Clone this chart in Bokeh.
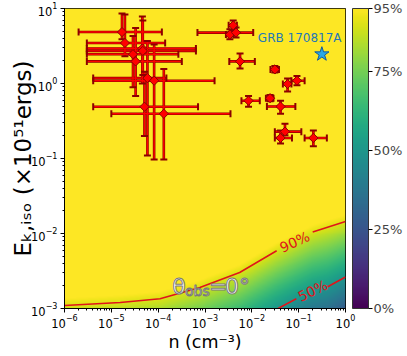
import numpy as np
from bokeh.plotting import figure
from bokeh.models import (LinearColorMapper, ColorBar, FixedTicker, PrintfTickFormatter,
                          Label, ColumnDataSource)
from bokeh.palettes import Viridis256
from bokeh.embed import file_html
from bokeh.resources import INLINE

# ---------------- data ----------------
n_cm3 = [1.69e-5, 1.95e-5, 4.6e-5, 4.7e-5, 2.9e-5, 3.3e-5, 5.9e-5, 8.2e-5, 5.1e-5, 1.32e-4,
         4.0e-3, 3.4e-3, 4.6e-3, 5.6e-3, 0.031, 0.058, 0.092, 8.5e-3, 0.0245, 0.041,
         0.051, 0.041, 0.206]
n_lo = [2.0e-6, 3.0e-6, 3.0e-6, 3.0e-6, 3.0e-6, 3.0e-6, 4.1e-6, 4.1e-6, 4.1e-6, 1.0e-5,
        3.2e-3, 2.8e-3, 6.9e-4, 3.3e-3, 0.025, 0.046, 0.070, 6.0e-3, 0.020, 0.021,
        0.031, 0.031, 0.134]
n_hi = [1.2e-4, 1.41e-4, 6.4e-4, 6.4e-4, 2.7e-4, 3.2e-4, 1.5e-4, 1.6e-3, 7.1e-4, 3.5e-3,
        4.8e-3, 4.1e-3, 1.07e-2, 1.16e-2, 0.038, 0.070, 0.134, 0.0148, 0.029, 0.085,
        0.114, 0.072, 0.40]
E_51 = [4.85, 3.47, 2.93, 2.72, 2.46, 1.97, 1.18, 1.09, 0.49, 0.395,
        5.96, 4.49, 4.77, 1.97, 1.54, 0.985, 1.09, 0.59, 0.637, 0.493,
        0.228, 0.188, 0.188]
E_lo = [3.9, 2.3, 1.0, 1.3, 0.89, 0.68, 0.11, 0.097, 0.20, 0.097,
        5.1, 3.9, 4.1, 1.59, 1.40, 0.78, 0.95, 0.49, 0.58, 0.395,
        0.204, 0.158, 0.146]
E_hi = [8.6, 8.3, 7.8, 6.9, 4.3, 5.5, 3.7, 3.3, 1.43, 1.56,
        6.9, 5.3, 5.6, 2.51, 1.71, 1.17, 1.26, 0.68, 0.70, 0.59,
        0.291, 0.237, 0.237]

grb_n = [0.313]
grb_E = [2.46]
grb_name = "GRB 170817A"

# contour lines of the detection-probability map (log10 n, log10 E)
c90_logn = [-6.0, -4.81, -3.96, -3.11, -2.26, -1.47, -0.70, 0.0]
c90_logE = [-2.96, -2.92, -2.87, -2.72, -2.52, -2.23, -1.98, -1.84]
c50_logn = [-1.44, -1.05, -0.38, 0.0]
c50_logE = [-3.0, -2.87, -2.71, -2.58]
level_hi, level_lo = 90.0, 50.0

cbar_ticks = [0, 25, 50, 75, 95]
cbar_max = 95
x_range = (1e-6, 1.0)
y_range = (1e-3, 10.0)

# ---------------- probability map built from the contours ----------------
nx, ny = 282, 302
lx = -6 + (np.arange(nx) + 0.5) * 6.0 / nx
ly = -3 + (np.arange(ny) + 0.5) * 4.0 / ny
c90 = np.interp(lx, c90_logn, c90_logE)
gap_pts = np.interp(c50_logn, c90_logn, c90_logE) - np.array(c50_logE)
gap = np.interp(lx, c50_logn, gap_pts)
field = level_hi + (level_hi - level_lo) * (ly[:, None] - c90[None, :]) / gap[None, :]

FONT = "DejaVu Sans"
RED = "#e0141a"
DARK = "#8b0000"
W, H = 405, 354

p = figure(width=W, height=H, x_axis_type="log", y_axis_type="log",
           x_range=x_range, y_range=y_range, output_backend="svg",
           toolbar_location=None, min_border_left=64, min_border_right=W - 346,
           min_border_top=8, min_border_bottom=H - 310)
p.grid.visible = False
p.outline_line_color = "black"
p.outline_line_width = 1

mapper = LinearColorMapper(palette=Viridis256, low=0, high=cbar_max)
p.image(image=[field], x=x_range[0], y=y_range[0], dw=x_range[1] - x_range[0],
        dh=y_range[1] - y_range[0], color_mapper=mapper)

c90_n = [10 ** v for v in c90_logn]
c90_E = [10 ** v for v in c90_logE]
c50_n = [10 ** v for v in c50_logn]
c50_E = [10 ** v for v in c50_logE]
p.line(c90_n[:6], c90_E[:6], line_color=RED, line_width=1.5)
p.line(c90_n[6:], c90_E[6:], line_color=RED, line_width=1.5)
p.line(c50_n[:2], c50_E[:2], line_color=RED, line_width=1.5)
p.line(c50_n[2:], c50_E[2:], line_color=RED, line_width=1.5)

p.add_layout(Label(x=10 ** -1.085, y=10 ** -2.113, text="90%", angle=0.42,
                   text_align="center", text_baseline="middle", text_color=RED,
                   text_font=FONT, text_font_size="14px"))
p.add_layout(Label(x=10 ** -0.70, y=10 ** -2.762, text="50%", angle=0.45,
                   text_align="center", text_baseline="middle", text_color=RED,
                   text_font=FONT, text_font_size="14px"))

for txt, lxp, lyp, fs in [("θ", -3.70, -2.709, "22px"), ("obs", -3.426, -2.765, "14px"),
                          ("=", -2.915, -2.709, "22px"), ("0°", -2.574, -2.709, "22px")]:
    p.add_layout(Label(x=10 ** lxp, y=10 ** lyp, text=txt, text_color="white",
                       text_outline_color="#7a7a7a", text_font=FONT,
                       text_font_size=fs, text_baseline="alphabetic"))

src = ColumnDataSource(dict(n=n_cm3, E=E_51, nlo=n_lo, nhi=n_hi, elo=E_lo, ehi=E_hi))
p.segment("nlo", "E", "nhi", "E", source=src, line_color=DARK, line_width=2.6)
p.segment("n", "elo", "n", "ehi", source=src, line_color=DARK, line_width=2.6)
p.segment("nlo", "E", "nhi", "E", source=src, line_color="red", line_width=1.4)
p.segment("n", "elo", "n", "ehi", source=src, line_color="red", line_width=1.4)
for xs, ys, ang in [("nlo", "E", np.pi / 2), ("nhi", "E", np.pi / 2),
                    ("n", "elo", 0.0), ("n", "ehi", 0.0)]:
    p.scatter(xs, ys, source=src, marker="dash", angle=ang, size=7,
              line_color=DARK, line_width=2)
p.scatter("n", "E", source=src, marker="square", angle=np.pi / 4, size=6.5,
          fill_color="red", line_color=DARK, line_width=1)

p.scatter(grb_n, grb_E, marker="star", size=15, fill_color="#2aa8e6",
          line_color="#135a9a", line_width=1)
p.add_layout(Label(x=10 ** -1.872, y=4.0, text=grb_name, text_color="#1f78b8",
                   text_font=FONT, text_font_size="12px", text_baseline="middle"))

for ax in (p.xaxis, p.yaxis):
    ax.major_label_text_font = FONT
    ax.major_label_text_font_size = "11.5px"
    ax.major_label_text_color = "black"
    ax.axis_line_color = "black"
    ax.major_tick_line_color = "black"
    ax.minor_tick_line_color = "black"
    ax.major_tick_in = 0
    ax.major_tick_out = 4
    ax.minor_tick_in = 0
    ax.minor_tick_out = 2
    ax.axis_label_text_font = FONT
    ax.axis_label_text_font_style = "normal"
    ax.axis_label_text_color = "black"
p.xaxis.major_label_standoff = 1
p.yaxis.major_label_standoff = 3
p.xaxis.axis_label = "n (cm⁻³)"
p.xaxis.axis_label_text_font_size = "17.5px"
p.xaxis.axis_label_standoff = 1
p.yaxis.axis_label = "Eₖ,ᵢₛₒ (×10⁵¹ergs)"
p.yaxis.axis_label_text_font_size = "23px"
p.yaxis.axis_label_standoff = -8

cb = ColorBar(color_mapper=mapper, ticker=FixedTicker(ticks=cbar_ticks),
              formatter=PrintfTickFormatter(format="%d%%"), width=16,
              location=(7, 0), padding=0, margin=0, bar_line_color="#333333",
              major_tick_line_color="black", major_tick_out=4, major_tick_in=0,
              minor_tick_line_color=None, major_label_text_font=FONT,
              major_label_text_font_size="13px", label_standoff=1,
              border_line_color=None, background_fill_alpha=0)
p.add_layout(cb, "right")

open("out.html", "w").write(file_html(p, INLINE))
